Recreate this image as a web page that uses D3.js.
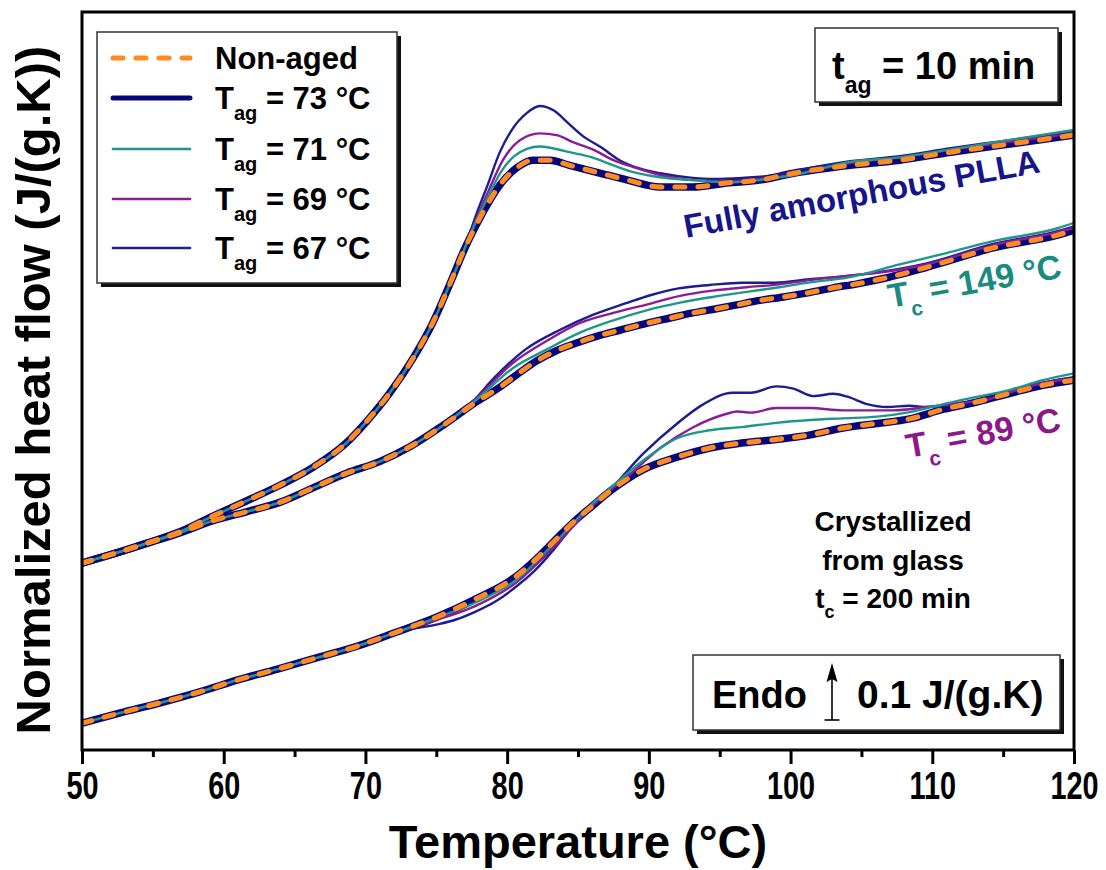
<!DOCTYPE html>
<html>
<head>
<meta charset="utf-8">
<script src="https://cdn.jsdelivr.net/npm/d3@7"></script>
<style>
  body { margin: 0; background: #fff; }
  svg text { font-family: "Liberation Sans", Arial, sans-serif; font-weight: bold; }
</style>
</head>
<body>
<div id="chart"></div>
<script>
// temperature (°C), normalized heat flow (J/(g.K), arbitrary offset)
const amorphousOnset = [[50,0.328],[52.2,0.344],[54.6,0.363],[56.9,0.383],[59.2,0.41],[61.6,0.437],[64,0.465],[66.3,0.496],[68.7,0.54],[70.1,0.577],[71.7,0.626],[73.4,0.689],[74.6,0.742],[76.2,0.832],[76.9,0.874]];
const amorphousNonAged = amorphousOnset.concat([[77.9,0.925],[78.6,0.957],[79.5,0.992],[80.7,1.022],[81.8,1.035],[83,1.035],[84.4,1.026],[86.6,1.012],[88.5,1.0],[90.8,0.988],[93.1,0.988],[95.5,0.995],[97.8,1.0],[100.2,1.012],[104.2,1.026],[107.7,1.035],[111.3,1.049],[114.8,1.061],[120,1.079]]);
const amorphous73 = amorphousNonAged;
const amorphous71 = amorphousOnset.concat([[77.9,0.932],[78.6,0.968],[79.5,1.012],[80.5,1.042],[81.4,1.055],[82.3,1.059],[83.2,1.056],[84.4,1.049],[86.1,1.039],[87.5,1.026],[88.9,1.014],[90.8,1.005],[93.1,1.0],[95.5,0.996],[97.8,1.0],[100.2,1.009],[104.2,1.032],[107.7,1.04],[111.3,1.054],[114.8,1.068],[120,1.088]]);
const amorphous69 = amorphousOnset.concat([[77.9,0.936],[78.6,0.976],[79.7,1.035],[80.9,1.07],[82.3,1.082],[83.5,1.079],[84.6,1.067],[86.1,1.053],[87.5,1.035],[88.9,1.023],[90.8,1.009],[93.1,1.0],[95.5,0.998],[97.8,1.002],[100.2,1.009],[104.2,1.03],[107.7,1.04],[111.3,1.053],[114.8,1.065],[120,1.082]]);
const amorphous67 = amorphousOnset.concat([[77.9,0.945],[78.6,0.99],[79.5,1.05],[80.3,1.087],[81.4,1.118],[82.3,1.13],[83.3,1.122],[84.3,1.1],[85.3,1.078],[86.6,1.058],[88,1.034],[89.4,1.02],[90.8,1.012],[93.1,1.004],[94.5,1.002],[96.6,1.004],[99,1.009],[100.7,1.018],[104.2,1.033],[107.7,1.042],[111.3,1.056],[114.8,1.068],[120,1.086]]);

const tc149Onset = [[50,0.328],[52.2,0.344],[54.6,0.363],[56.9,0.381],[59.2,0.402],[61.6,0.418],[64,0.435],[66.3,0.46],[68.7,0.486],[71,0.506],[73.2,0.533],[75.5,0.57]];
const tc149NonAged = tc149Onset.concat([[77.9,0.612],[79.5,0.637],[80.7,0.659],[82.1,0.683],[83.5,0.701],[85.1,0.716],[86.6,0.728],[88,0.737],[89.9,0.749],[91.5,0.758],[93.1,0.767],[94.5,0.773],[96.2,0.781],[97.6,0.788],[99.5,0.795],[101.4,0.803],[103,0.811],[104.7,0.818],[106.3,0.826],[109.6,0.847],[114.3,0.881],[118.9,0.904],[120,0.912]]);
const tc149_73 = tc149NonAged;
const tc149_71 = tc149Onset.concat([[77.9,0.616],[80.4,0.67],[82.8,0.703],[85.1,0.732],[87.5,0.754],[89.9,0.772],[92.2,0.785],[94.5,0.795],[96.9,0.804],[99.2,0.812],[101.5,0.821],[104,0.829],[107.7,0.852],[111,0.872],[114.3,0.893],[118.9,0.916],[120,0.925]]);
const tc149_69 = tc149Onset.concat([[77.9,0.619],[80.4,0.679],[82.8,0.718],[85.1,0.749],[87.5,0.767],[89.9,0.782],[92.2,0.797],[94.5,0.806],[96.9,0.812],[99.2,0.817],[101.5,0.825],[104,0.832],[106.3,0.838],[109.6,0.852],[114.3,0.886],[118.9,0.909],[120,0.916]]);
const tc149_67 = tc149Onset.concat([[77.5,0.61],[79.2,0.656],[81.3,0.703],[83.7,0.737],[86,0.763],[88.4,0.784],[90.1,0.798],[92.1,0.81],[94.3,0.816],[96.6,0.82],[98.9,0.82],[101.3,0.826],[104,0.832],[106.3,0.839],[109.6,0.854],[114.3,0.888],[118.9,0.911],[120,0.919]]);

const tc89Onset = [[50,0.047],[52.7,0.065],[55.4,0.082],[58.3,0.102],[61,0.123],[63.8,0.142],[66.6,0.162],[69.4,0.182],[72.2,0.207]];
const tc89NonAged = tc89Onset.concat([[75,0.233],[77.7,0.264],[80.6,0.304],[82,0.334],[83.3,0.366],[84.6,0.398],[86,0.428],[87.3,0.455],[88.5,0.476],[89.6,0.492],[92,0.514],[94.3,0.53],[96.7,0.539],[99,0.545],[101.4,0.553],[103.7,0.565],[106.1,0.573],[108.4,0.581],[110.8,0.598],[113.2,0.611],[115.5,0.626],[117.8,0.64],[120,0.649]]);
const tc89_73 = tc89NonAged;
const tc89_71 = tc89Onset.concat([[75,0.232],[77.7,0.258],[80.6,0.298],[83.3,0.362],[86,0.432],[87.3,0.46],[89.6,0.508],[92,0.547],[94.3,0.561],[96.7,0.567],[99,0.574],[101.4,0.579],[103.7,0.582],[106.1,0.585],[108.4,0.593],[110,0.602],[112,0.614],[115.5,0.632],[117.8,0.649],[120,0.661]]);
const tc89_69 = tc89Onset.concat([[75,0.228],[77.7,0.252],[80.6,0.293],[83.3,0.356],[86,0.428],[87.3,0.456],[88.5,0.48],[90.8,0.53],[93.1,0.566],[95.5,0.59],[96.2,0.594],[97.2,0.592],[99,0.6],[101.4,0.6],[103.7,0.596],[107.2,0.596],[109.6,0.602],[111.9,0.609],[113.8,0.614],[115.5,0.628],[117.8,0.644],[120,0.652]]);
const tc89_67 = tc89Onset.concat([[75,0.22],[76.4,0.229],[77.7,0.242],[79.2,0.261],[80.6,0.286],[82,0.316],[83.3,0.352],[84.6,0.392],[86,0.428],[87.3,0.458],[89.6,0.52],[92,0.573],[93.8,0.606],[95.9,0.627],[97.2,0.627],[99,0.638],[100.2,0.634],[101.6,0.621],[103,0.625],[104,0.62],[105.4,0.607],[106.8,0.602],[108.4,0.604],[109.6,0.602],[111.3,0.605],[113.2,0.614],[115.5,0.628],[117.8,0.644],[120,0.654]]);

const majorTicks = [50, 60, 70, 80, 90, 100, 110, 120];
const minorTicks = [55, 65, 75, 85, 95, 105, 115];

// drawn in this order: thick 73 under the thin ones, dashed non-aged on top
const series = [
  { label: "73", color: "#07077c", width: 7.5, dash: null, curves: [amorphous73, tc149_73, tc89_73] },
  { label: "67", color: "#1d1d8e", width: 2.4, dash: null, curves: [amorphous67, tc149_67, tc89_67] },
  { label: "69", color: "#8b1c97", width: 2.4, dash: null, curves: [amorphous69, tc149_69, tc89_69] },
  { label: "71", color: "#1f968b", width: 2.4, dash: null, curves: [amorphous71, tc149_71, tc89_71] },
  { label: "Non-aged", color: "#ff8c1c", width: 5, dash: "10,13", curves: [amorphousNonAged, tc149NonAged, tc89NonAged] }
];
const legendOrder = ["Non-aged", "73", "71", "69", "67"];

const W = 1106, H = 870;
const x = d3.scaleLinear().domain([50, 120]).range([82, 1074]);
const y = d3.scaleLinear().domain([0, 1.295]).range([750, 12]);

const svg = d3.select("#chart").append("svg")
  .attr("width", W).attr("height", H)
  .attr("viewBox", [0, 0, W, H]);

svg.append("defs").append("clipPath").attr("id", "plotClip")
  .append("rect").attr("x", 82).attr("y", 12).attr("width", 992).attr("height", 738);

const line = d3.line()
  .x(d => x(d[0]))
  .y(d => y(d[1]))
  .curve(d3.curveMonotoneX);

const plot = svg.append("g").attr("clip-path", "url(#plotClip)");
series.forEach(s => {
  s.curves.forEach(c => {
    plot.append("path")
      .attr("d", line(c))
      .attr("fill", "none")
      .attr("stroke", s.color)
      .attr("stroke-width", s.width)
      .attr("stroke-linecap", "round")
      .attr("stroke-linejoin", "round")
      .attr("stroke-dasharray", s.dash);
  });
});

// frame
svg.append("rect")
  .attr("x", 82).attr("y", 12).attr("width", 992).attr("height", 738)
  .attr("fill", "none").attr("stroke", "#000").attr("stroke-width", 3);

// x axis
const xMajor = svg.append("g").attr("transform", "translate(0,750)")
  .call(d3.axisBottom(x).tickValues(majorTicks).tickSize(14).tickPadding(8).tickFormat(d3.format("d")));
const xMinor = svg.append("g").attr("transform", "translate(0,750)")
  .call(d3.axisBottom(x).tickValues(minorTicks).tickSize(7).tickFormat(""));
[xMajor, xMinor].forEach(g => {
  g.select(".domain").remove();
  g.selectAll(".tick line").attr("stroke", "#000").attr("stroke-width", 3);
});
xMajor.selectAll(".tick text")
  .attr("font-size", 38)
  .attr("fill", "#000")
  .attr("font-family", "'Liberation Sans', Arial, sans-serif")
  .attr("font-weight", "bold")
  .attr("transform", "scale(0.76,1)");

svg.append("text")
  .attr("x", 578).attr("y", 858)
  .attr("text-anchor", "middle")
  .attr("font-size", 47)
  .text("Temperature (°C)");

svg.append("text")
  .attr("transform", "translate(50,390) rotate(-90)")
  .attr("text-anchor", "middle")
  .attr("font-size", 49)
  .text("Normalized heat flow (J/(g.K))");

// text with a subscript
function subText(sel, main, sub, rest, size, subSize, shift) {
  sel.append("tspan").attr("font-size", size).text(main);
  sel.append("tspan").attr("font-size", subSize).attr("dy", shift).text(sub);
  sel.append("tspan").attr("font-size", size).attr("dy", -shift).text(rest);
  return sel;
}

function shadowBox(x0, y0, w, h) {
  svg.append("rect").attr("x", x0 + 4).attr("y", y0 + 4).attr("width", w).attr("height", h).attr("fill", "#111");
  svg.append("rect").attr("x", x0).attr("y", y0).attr("width", w).attr("height", h)
    .attr("fill", "#fff").attr("stroke", "#333").attr("stroke-width", 1.5);
}

// legend
shadowBox(97, 32, 300, 251);
const legendRows = [58, 98, 149, 199, 248];
legendOrder.forEach((lab, i) => {
  const s = series.find(d => d.label === lab);
  const cy = legendRows[i];
  svg.append("line")
    .attr("x1", 113).attr("x2", 190).attr("y1", cy).attr("y2", cy)
    .attr("stroke", s.color)
    .attr("stroke-width", lab === "73" || lab === "Non-aged" ? 5 : 2.6)
    .attr("stroke-linecap", "round")
    .attr("stroke-dasharray", s.dash);
  const t = svg.append("text").attr("x", 215).attr("y", cy + 11).attr("fill", "#000");
  if (lab === "Non-aged") {
    t.attr("font-size", 31).text("Non-aged");
  } else {
    subText(t, "T", "ag", " = " + lab + " °C", 31, 20, 11);
  }
});

// t_ag box
shadowBox(815, 28, 243, 74);
subText(svg.append("text").attr("x", 832).attr("y", 79), "t", "ag", " = 10 min", 38, 23, 14);

// scale box
shadowBox(693, 655, 367, 75);
svg.append("text").attr("x", 712).attr("y", 708).attr("font-size", 38).text("Endo");
svg.append("text").attr("x", 857).attr("y", 708).attr("font-size", 39).text("0.1 J/(g.K)");
svg.append("line").attr("x1", 832).attr("x2", 832).attr("y1", 720).attr("y2", 676)
  .attr("stroke", "#000").attr("stroke-width", 1.6);
svg.append("line").attr("x1", 824.5).attr("x2", 839.5).attr("y1", 720).attr("y2", 720)
  .attr("stroke", "#000").attr("stroke-width", 1.6);
svg.append("path").attr("d", "M832,663 L826.5,682 L832,679 L837.5,682 Z").attr("fill", "#000");

// curve labels
svg.append("text")
  .attr("transform", "translate(686,238) rotate(-10.5)")
  .attr("font-size", 33).attr("fill", "#16168a")
  .text("Fully amorphous PLLA");
subText(svg.append("text").attr("transform", "translate(890,308) rotate(-10)").attr("fill", "#1b8a80"),
  "T", "c", " = 149 °C", 34, 21, 12);
subText(svg.append("text").attr("transform", "translate(908,458) rotate(-10)").attr("fill", "#8a1a8a"),
  "T", "c", " = 89 °C", 34, 21, 12);

// crystallization note
const note = svg.append("g").attr("text-anchor", "middle").attr("font-size", 28);
note.append("text").attr("x", 893).attr("y", 531).text("Crystallized");
note.append("text").attr("x", 893).attr("y", 570).text("from glass");
subText(note.append("text").attr("x", 893).attr("y", 608), "t", "c", " = 200 min", 28, 18, 10);
</script>
</body>
</html>
